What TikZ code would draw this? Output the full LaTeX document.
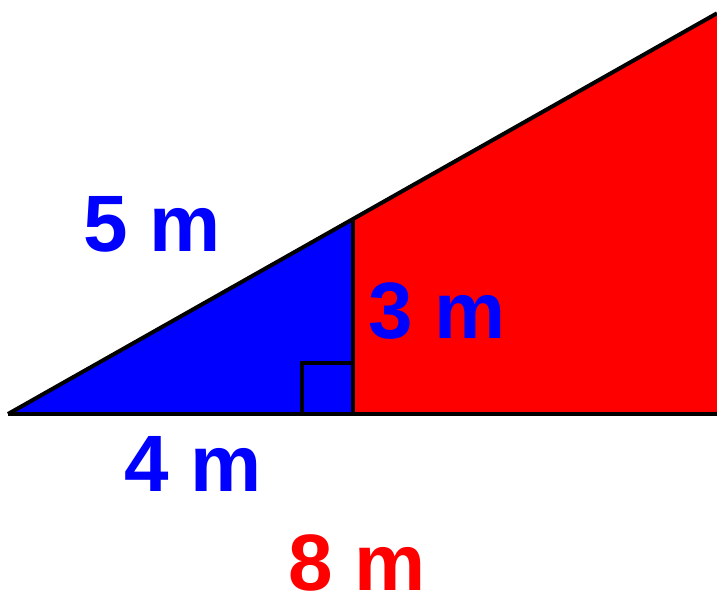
\documentclass[tikz,border=0pt]{standalone}
\usepackage{fontspec}
\setmainfont{Liberation Sans}
\usetikzlibrary{positioning}
\definecolor{triblue}{rgb}{0,0,1}
\definecolor{trired}{rgb}{1,0,0}

\begin{document}
\begin{tikzpicture}[x=0.5pt, y=0.5pt,
		lb/.style = {text=triblue, font=\fontsize{40}{48}\selectfont\bfseries, inner sep=0pt},
		lr/.style = {text=trired, font=\fontsize{40}{48}\selectfont\bfseries, inner sep=0pt},
		e/.style = {draw=black, line width=2pt, line join=miter}
		]
		\useasboundingbox (0, 0) rectangle (717, 600);
		
		%Points
		\coordinate	(A)	at	(8, 186);
		\coordinate	(C)	at	(353, 186);
		\coordinate	(B)	at	(353, 381);
		\coordinate	(D)	at	(717, 586.7);
		\coordinate	(E)	at	(717, 186);
		\coordinate	(q1)	at	(302, 186);
		\coordinate	(q2)	at	(302, 237);
		\coordinate	(q3)	at	(353, 237);
		
		%Areas
		\fill[trired]	(B) -- (D) -- (E) -- (C) -- cycle;
		\fill[triblue]	(A) -- (B) -- (C) -- cycle;
		
		%Lines
		\draw[e]	(A) -- (D);
		\draw[e]	(A) -- (E);
		\draw[e]	(B) -- (C);
		\draw[e]	(q1) -- (q2) -- (q3);
		
		%Labels
		\node[lb]	(l5)	at	(152, 376)	{5 m};
		\node[lb]	(l3)	at	(437, 289)	{3 m};
		\node[lb]	(l4)	at	(193, 136)	{4 m};
		\node[lr]	(l8)	at	(357, 37)	{8 m};
	\end{tikzpicture}
\end{document}
